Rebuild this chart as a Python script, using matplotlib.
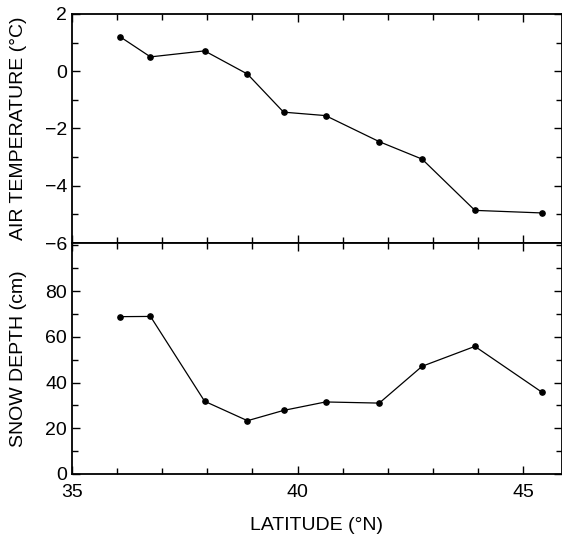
import matplotlib.pyplot as plt
from matplotlib.ticker import MultipleLocator

plt.rcParams['font.family'] = ['Liberation Sans', 'DejaVu Sans']

latitude = [36.07, 36.74, 37.94, 38.89, 39.69, 40.62, 41.81, 42.76, 43.93, 45.42]
air_temp = [1.2, 0.5, 0.71, -0.1, -1.43, -1.55, -2.46, -3.07, -4.86, -4.95]
snow_depth = [68.8, 68.9, 31.8, 23.3, 27.8, 31.5, 31.0, 47.1, 55.8, 35.7]

fig = plt.figure(figsize=(5.62, 5.36), dpi=100)
ax1 = fig.add_axes([0.128, 0.5466, 0.872, 0.4274])
ax2 = fig.add_axes([0.128, 0.1157, 0.872, 0.4309], sharex=ax1)

ax1.plot(latitude, air_temp, color='black', lw=0.9, marker='o', ms=3.8)
ax2.plot(latitude, snow_depth, color='black', lw=0.9, marker='o', ms=3.8)

ax1.set_xlim(35, 45.86)
ax1.set_ylim(-6, 2)
ax1.set_yticks([-6, -4, -2, 0, 2])
ax1.yaxis.set_minor_locator(MultipleLocator(1))
ax2.set_ylim(0, 101)
ax2.set_yticks([0, 20, 40, 60, 80])
ax2.yaxis.set_minor_locator(MultipleLocator(10))
ax2.set_xticks([35, 40, 45])
ax2.xaxis.set_minor_locator(MultipleLocator(1))

for ax in (ax1, ax2):
    ax.tick_params(which='both', direction='in', top=True, right=True,
                   labelsize=14, width=1)
    ax.tick_params(which='major', length=6)
    ax.tick_params(which='minor', length=4)
    for s in ax.spines.values():
        s.set_linewidth(1.3)
ax1.tick_params(labelbottom=False)
ax2.tick_params(axis='x', pad=7)

ax1.set_ylabel('AIR TEMPERATURE (°C)', fontsize=14, labelpad=13)
ax2.set_ylabel('SNOW DEPTH (cm)', fontsize=14, labelpad=13)
ax2.set_xlabel('LATITUDE (°N)', fontsize=14, labelpad=12)
fig.align_ylabels([ax1, ax2])

fig.savefig('out.png', dpi=100)
